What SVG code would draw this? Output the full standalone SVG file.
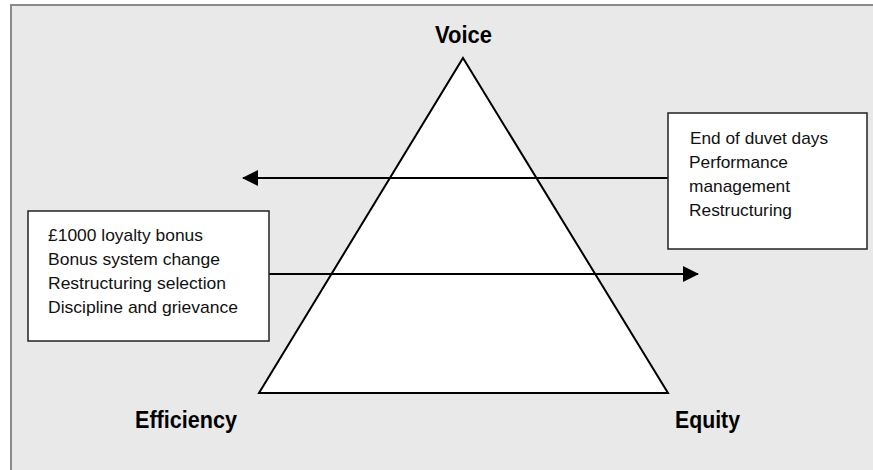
<svg xmlns="http://www.w3.org/2000/svg" width="873" height="470" viewBox="0 0 873 470">
<defs>
<style>
.lbl{font-family:"Liberation Sans Narrow","Liberation Sans",Arial,sans-serif;font-size:23px;font-weight:bold;fill:#000}
.txt{font-family:"Liberation Sans Narrow","Liberation Sans",Arial,sans-serif;font-size:17px;fill:#111}
.box{fill:#fff;stroke:#222;stroke-width:1.5}
.ln{stroke:#000;stroke-width:2;fill:none}
</style>
<marker id="ah" viewBox="0 0 16 16" refX="15" refY="8" markerWidth="16" markerHeight="16" markerUnits="userSpaceOnUse" orient="auto">
<path d="M0,0 L16,8 L0,16 Z" fill="#000"/>
</marker>
</defs>
<rect x="0" y="0" width="873" height="470" fill="#fff"/>
<rect x="11" y="5" width="862" height="465" fill="#e9e9e9"/>
<path d="M11,470 V5 H873" fill="none" stroke="#8a8a8a" stroke-width="2"/>
<g id="triangle">
<polygon points="463,58 668,393 259,393" fill="#fff" stroke="#000" stroke-width="2"/>
</g>
<g id="connectors">
<line class="ln" x1="668" y1="178" x2="243" y2="178" marker-end="url(#ah)"/>
<line class="ln" x1="269" y1="274" x2="698" y2="274" marker-end="url(#ah)"/>
</g>
<g id="voice"><text class="lbl" x="435" y="43" textLength="57" lengthAdjust="spacingAndGlyphs">Voice</text></g>
<g id="efficiency"><text class="lbl" x="135" y="428" textLength="102" lengthAdjust="spacingAndGlyphs">Efficiency</text></g>
<g id="equity"><text class="lbl" x="675" y="428" textLength="65" lengthAdjust="spacingAndGlyphs">Equity</text></g>
<g id="box-right">
<rect class="box" x="668" y="113" width="199" height="136"/>
<text class="txt" x="690" y="144" textLength="138" lengthAdjust="spacingAndGlyphs">End of duvet days</text>
<text class="txt" x="689" y="168" textLength="99" lengthAdjust="spacingAndGlyphs">Performance</text>
<text class="txt" x="689" y="192" textLength="101" lengthAdjust="spacingAndGlyphs">management</text>
<text class="txt" x="689" y="216" textLength="103" lengthAdjust="spacingAndGlyphs">Restructuring</text>
</g>
<g id="box-left">
<rect class="box" x="28" y="211" width="241" height="130"/>
<text class="txt" x="48" y="241" textLength="155" lengthAdjust="spacingAndGlyphs">£1000 loyalty bonus</text>
<text class="txt" x="48" y="265" textLength="172" lengthAdjust="spacingAndGlyphs">Bonus system change</text>
<text class="txt" x="48" y="289" textLength="178" lengthAdjust="spacingAndGlyphs">Restructuring selection</text>
<text class="txt" x="48" y="313" textLength="190" lengthAdjust="spacingAndGlyphs">Discipline and grievance</text>
</g>
</svg>
